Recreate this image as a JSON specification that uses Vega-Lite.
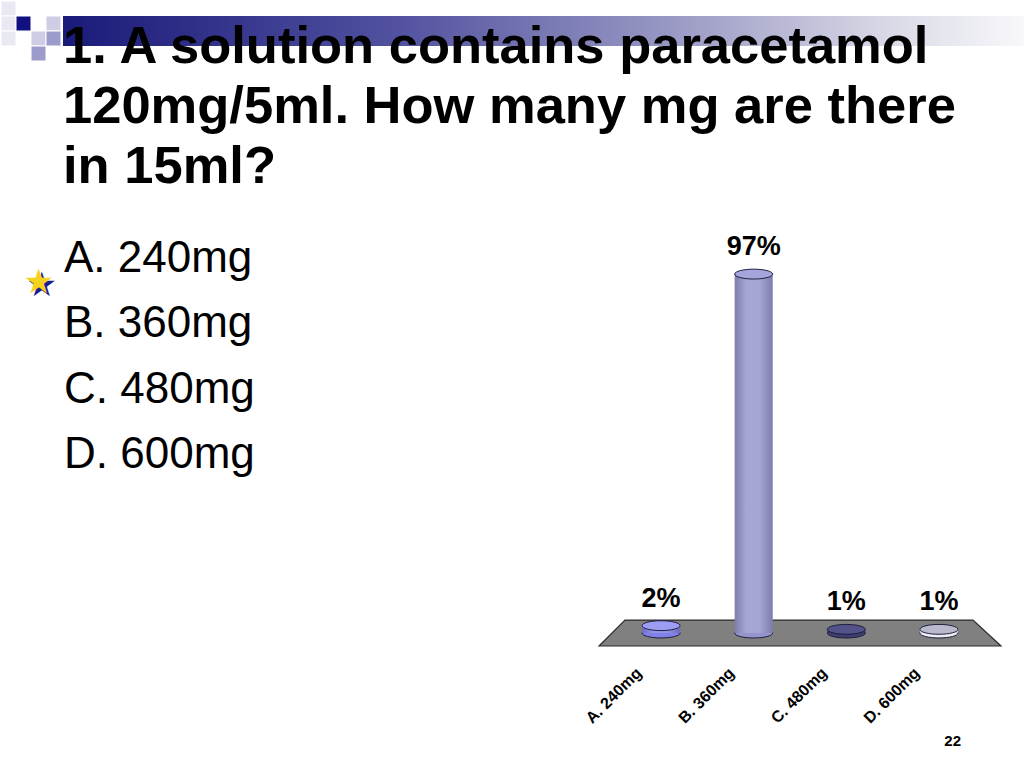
{
  "$schema": "https://vega.github.io/schema/vega-lite/v6.json",
  "padding": 0,
  "background": "white",
  "config": {
    "view": {"stroke": null},
    "font": "Liberation Sans",
    "axis": {"grid": false}
  },
  "datasets": {
    "tiles": [
      {"col": 0, "row": 0, "shade": "pale"},
      {"col": 0, "row": 1, "shade": "pale"},
      {"col": 0, "row": 2, "shade": "pale"},
      {"col": 1, "row": 1, "shade": "navy"},
      {"col": 2, "row": 2, "shade": "light"},
      {"col": 3, "row": 1, "shade": "light"},
      {"col": 3, "row": 2, "shade": "medium"},
      {"col": 2, "row": 3, "shade": "medium"}
    ],
    "question": [
      {"lines": ["1. A solution contains paracetamol", "120mg/5ml. How many mg are there", "in 15ml?"]}
    ],
    "answers": [
      {"col": 1, "order": 1, "text": "A. 240mg"},
      {"col": 1, "order": 2, "text": "B. 360mg"},
      {"col": 1, "order": 3, "text": "C. 480mg"},
      {"col": 1, "order": 4, "text": "D. 600mg"}
    ],
    "star": [{"col": -0.1, "order": 1, "glyph": "★"}],
    "votes": [
      {"answer": "A. 240mg", "share": 0.02},
      {"answer": "B. 360mg", "share": 0.97},
      {"answer": "C. 480mg", "share": 0.01},
      {"answer": "D. 600mg", "share": 0.01}
    ],
    "floor": [
      {"fx": -0.647, "lo": -0.035, "hi": -0.035},
      {"fx": -0.367, "lo": -0.035, "hi": 0.035},
      {"fx": 3.387, "lo": -0.035, "hi": 0.035},
      {"fx": 3.689, "lo": -0.035, "hi": -0.035}
    ]
  },
  "bounds": "flush",
  "spacing": 262,
  "vconcat": [
    {
      "bounds": "flush",
      "center": true,
      "spacing": 2,
      "hconcat": [
        {
          "width": 60,
          "height": 60,
          "data": {"name": "tiles"},
          "mark": {"type": "rect", "stroke": "white", "strokeWidth": 1},
          "encoding": {
            "x": {"field": "col", "type": "ordinal", "scale": {"domain": [0, 1, 2, 3], "paddingInner": 0, "paddingOuter": 0}, "axis": null},
            "y": {"field": "row", "type": "ordinal", "scale": {"domain": [0, 1, 2, 3], "paddingInner": 0, "paddingOuter": 0}, "axis": null},
            "color": {
              "field": "shade",
              "type": "nominal",
              "scale": {"domain": ["pale", "light", "medium", "navy"], "range": ["#e9e9f3", "#cdcde6", "#9c9ccc", "#101080"]},
              "legend": null
            }
          }
        },
        {
          "width": 962,
          "height": 30,
          "data": {"name": "question"},
          "layer": [
            {
              "mark": {
                "type": "rect",
                "fill": {
                  "gradient": "linear",
                  "x1": 0, "x2": 1, "y1": 0, "y2": 0,
                  "stops": [
                    {"offset": 0, "color": "#1a1a7a"},
                    {"offset": 0.35, "color": "#5252a0"},
                    {"offset": 0.66, "color": "#a0a0c8"},
                    {"offset": 0.87, "color": "#dcdce8"},
                    {"offset": 1, "color": "#f8f8fb"}
                  ]
                }
              },
              "encoding": {
                "x": {"datum": 0, "type": "quantitative", "scale": {"domain": [0, 1], "nice": false, "zero": false}, "axis": null},
                "x2": {"datum": 1}
              }
            },
            {
              "mark": {
                "type": "text",
                "align": "left",
                "baseline": "alphabetic",
                "fontSize": 52.5,
                "fontWeight": "bold",
                "lineHeight": 60,
                "dy": 32,
                "color": "black"
              },
              "encoding": {
                "x": {"datum": 0, "type": "quantitative"},
                "text": {"field": "lines", "type": "nominal"}
              }
            }
          ]
        }
      ]
    },
    {
      "bounds": "flush",
      "spacing": 2,
      "hconcat": [
        {
          "width": 596,
          "height": 383,
          "encoding": {
            "x": {"field": "col", "type": "quantitative", "scale": {"domain": [-1.739, 24.174], "nice": false, "zero": false}, "axis": null},
            "y": {"field": "order", "type": "quantitative", "scale": {"domain": [0.862, 6.727], "reverse": true, "nice": false, "zero": false}, "axis": null}
          },
          "layer": [
            {
              "data": {"name": "star"},
              "mark": {"type": "text", "font": "DejaVu Sans", "fontSize": 34, "align": "center", "baseline": "middle", "dx": 3, "dy": 14, "color": "#1c1c8c"},
              "encoding": {"text": {"field": "glyph", "type": "nominal"}}
            },
            {
              "data": {"name": "star"},
              "mark": {"type": "text", "font": "DejaVu Sans", "fontSize": 34, "align": "center", "baseline": "middle", "dy": 11, "color": "#f5d31c"},
              "encoding": {"text": {"field": "glyph", "type": "nominal"}}
            },
            {
              "data": {"name": "answers"},
              "mark": {"type": "text", "align": "left", "baseline": "alphabetic", "fontSize": 44, "color": "black"},
              "encoding": {"text": {"field": "text", "type": "nominal"}}
            }
          ]
        },
        {
          "width": 402,
          "height": 383,
          "title": {"text": "22", "orient": "bottom", "anchor": "end", "frame": "group", "fontSize": 15, "fontWeight": "bold", "color": "black", "dx": -40, "offset": 8},
          "resolve": {"scale": {"x": "independent"}},
          "layer": [
            {
              "data": {"name": "floor"},
              "mark": {"type": "area", "color": "#808080", "stroke": "#2b2b2b", "strokeWidth": 1.2, "opacity": 1},
              "encoding": {
                "x": {"field": "fx", "type": "quantitative", "scale": {"nice": false, "zero": false}, "axis": null},
                "y": {"field": "hi", "type": "quantitative", "scale": {"domain": [-0.035, 1], "nice": false, "zero": false}, "axis": null},
                "y2": {"field": "lo"}
              }
            },
            {
              "data": {"name": "votes"},
              "resolve": {"scale": {"fill": "independent"}},
              "encoding": {
                "x": {
                  "field": "answer",
                  "type": "nominal",
                  "sort": null,
                  "scale": {"paddingInner": 0.6, "paddingOuter": 0.47},
                  "axis": {
                    "title": null,
                    "labelAngle": -45,
                    "labelAlign": "right",
                    "labelBaseline": "middle",
                    "labelFontSize": 16,
                    "labelFontWeight": "bold",
                    "labelColor": "black",
                    "labelFont": "Liberation Sans",
                    "domain": false,
                    "ticks": false,
                    "labelPadding": 24,
                    "labelOffset": -22
                  }
                }
              },
              "layer": [
                {
                  "mark": {
                    "type": "point",
                    "shape": "M -1 0 C -1 -0.1436 -0.5523 -0.26 0 -0.26 C 0.5523 -0.26 1 -0.1436 1 0 C 1 0.1436 0.5523 0.26 0 0.26 C -0.5523 0.26 -1 0.1436 -1 0 Z",
                    "size": 1444,
                    "filled": true,
                    "opacity": 1,
                    "fillOpacity": 1,
                    "stroke": "#1e1e3c",
                    "strokeWidth": 1
                  },
                  "encoding": {
                    "y": {"datum": 0, "type": "quantitative", "scale": {"domain": [-0.035, 1], "nice": false, "zero": false}, "axis": null},
                    "fill": {
                      "field": "answer",
                      "type": "nominal",
                      "scale": {"range": ["#8080e6", "#9595cd", "#3d3d6e", "#ececf4"]},
                      "legend": null
                    }
                  }
                },
                {
                  "mark": {"type": "bar", "width": 38, "opacity": 1, "fillOpacity": 1},
                  "encoding": {
                    "y": {"field": "share", "type": "quantitative", "axis": null},
                    "y2": {"datum": 0},
                    "fill": {
                      "field": "answer",
                      "type": "nominal",
                      "scale": {"range": ["#8080e6", "#9595cd", "#3d3d6e", "#ececf4"]},
                      "legend": null
                    }
                  }
                },
                {
                  "mark": {
                    "type": "bar",
                    "width": 38,
                    "fillOpacity": 0.16,
                    "fill": {
                      "gradient": "linear",
                      "x1": 0, "x2": 1, "y1": 0, "y2": 0,
                      "stops": [
                        {"offset": 0, "color": "#000000"},
                        {"offset": 0.3, "color": "#ffffff"},
                        {"offset": 0.65, "color": "#ffffff"},
                        {"offset": 1, "color": "#000000"}
                      ]
                    }
                  },
                  "encoding": {
                    "y": {"field": "share", "type": "quantitative", "axis": null},
                    "y2": {"datum": 0}
                  }
                },
                {
                  "mark": {
                    "type": "point",
                    "shape": "M -1 0 C -1 -0.1436 -0.5523 -0.26 0 -0.26 C 0.5523 -0.26 1 -0.1436 1 0 C 1 0.1436 0.5523 0.26 0 0.26 C -0.5523 0.26 -1 0.1436 -1 0 Z",
                    "size": 1444,
                    "filled": true,
                    "opacity": 1,
                    "fillOpacity": 1,
                    "stroke": "#1e1e3c",
                    "strokeWidth": 1
                  },
                  "encoding": {
                    "y": {"field": "share", "type": "quantitative", "axis": null},
                    "fill": {
                      "field": "answer",
                      "type": "nominal",
                      "scale": {"range": ["#9d9df5", "#a5a5dc", "#53538a", "#b9b9cc"]},
                      "legend": null
                    }
                  }
                },
                {
                  "mark": {"type": "text", "dy": -19, "baseline": "alphabetic", "fontSize": 27, "fontWeight": "bold", "color": "black"},
                  "encoding": {
                    "y": {"field": "share", "type": "quantitative", "axis": null},
                    "text": {"field": "share", "type": "quantitative", "format": ".0%"}
                  }
                }
              ]
            }
          ]
        }
      ]
    }
  ]
}
